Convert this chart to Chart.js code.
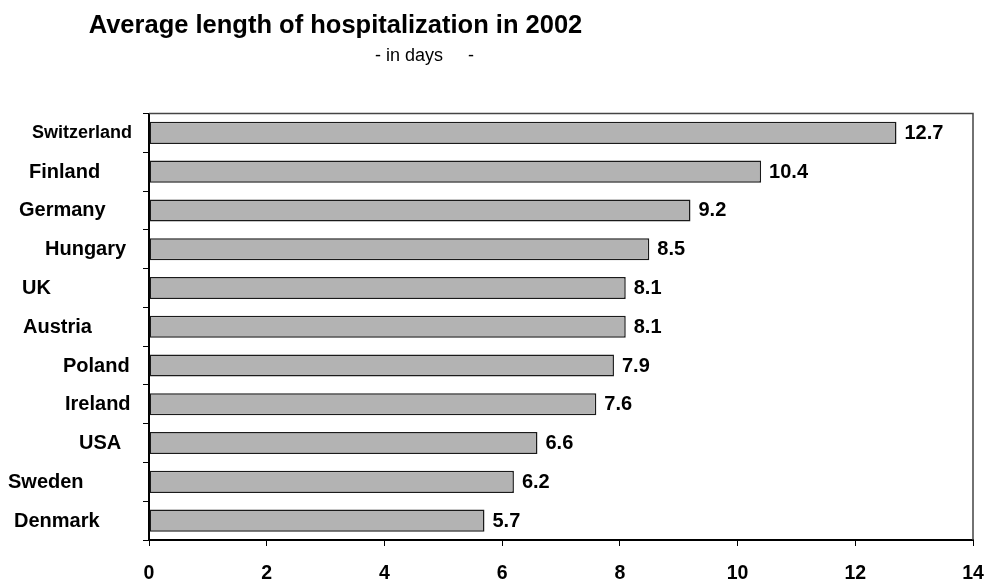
<!DOCTYPE html>
<html><head><meta charset="utf-8">
<script src="https://cdn.jsdelivr.net/npm/chart.js@4"></script>
<style>html,body{margin:0;padding:0;background:#fff}canvas{display:block}</style>
</head><body><canvas id="c" width="991" height="583"></canvas>
<script>
const countries = ['Switzerland','Finland','Germany','Hungary','UK','Austria','Poland','Ireland','USA','Sweden','Denmark'];
const days = [12.7, 10.4, 9.2, 8.5, 8.1, 8.1, 7.9, 7.6, 6.6, 6.2, 5.7];
const xTickValues = [0, 2, 4, 6, 8, 10, 12, 14];
const titleText = 'Average length of hospitalization in 2002';
const subtitleText = '- in days     -';

// label placement (style, not data)
const labelLeft = [32, 29, 19, 45, 22, 23, 63, 65, 79, 8, 14];
const labelSize = [18, 20, 20, 20, 20, 20, 20, 20, 20, 20, 20];
const FONT = '"Liberation Sans", Arial, sans-serif';

const decor = {
  id: 'decor',
  beforeDraw(chart) {
    const ctx = chart.ctx;
    ctx.save();
    ctx.fillStyle = '#fff';
    ctx.fillRect(0, 0, chart.width, chart.height);
    ctx.restore();
  },
  afterDraw(chart) {
    const ctx = chart.ctx, a = chart.chartArea, ys = chart.scales.y;
    ctx.save();
    ctx.strokeStyle = '#444';
    ctx.lineWidth = 1.5;
    ctx.beginPath();
    ctx.moveTo(a.left, a.top);
    ctx.lineTo(a.right, a.top);
    ctx.lineTo(a.right, a.bottom);
    ctx.stroke();
    ctx.fillStyle = '#000';
    ctx.textAlign = 'center';
    ctx.textBaseline = 'alphabetic';
    ctx.font = 'bold 25.5px ' + FONT;
    ctx.fillText(titleText, 335.5, 33);
    ctx.textAlign = 'left';
    ctx.font = '18px ' + FONT;
    ctx.fillText(subtitleText, 375, 60.5);
    ctx.textBaseline = 'middle';
    countries.forEach((c, i) => {
      ctx.font = 'bold ' + labelSize[i] + 'px ' + FONT;
      ctx.fillText(c, labelLeft[i], ys.getPixelForValue(i) + 0.5);
    });
    const meta = chart.getDatasetMeta(0);
    ctx.font = 'bold 20px ' + FONT;
    meta.data.forEach((bar, i) => {
      ctx.fillText(days[i].toFixed(1), bar.x + 8, bar.y + 0.5);
    });
    ctx.restore();
  }
};

new Chart(document.getElementById('c'), {
  type: 'bar',
  data: {
    labels: countries,
    datasets: [{
      data: days,
      backgroundColor: '#b3b3b3',
      borderColor: '#1a1a1a',
      borderWidth: 1.5,
      borderSkipped: false,
      categoryPercentage: 1,
      barPercentage: 0.57
    }]
  },
  options: {
    indexAxis: 'y',
    responsive: false,
    animation: false,
    events: [],
    layout: { padding: { left: 143, top: 113.5, right: 18, bottom: 0 } },
    plugins: { legend: { display: false }, tooltip: { enabled: false }, title: { display: false } },
    scales: {
      x: {
        type: 'linear',
        min: 0, max: 14,
        afterBuildTicks(scale) { scale.ticks = xTickValues.map(v => ({ value: v })); },
        afterFit(scale) { scale.height = 43; scale.paddingLeft = 0; scale.paddingRight = 0; },
        ticks: { color: '#000', padding: 16, font: { family: FONT, size: 19.5, weight: 'bold' } },
        grid: { drawOnChartArea: false, drawTicks: true, tickLength: 6, color: '#000', lineWidth: 1 },
        border: { color: '#000', width: 2 }
      },
      y: {
        type: 'category',
        offset: true,
        afterFit(scale) { scale.width = 6; scale.paddingTop = 0; scale.paddingBottom = 0; },
        ticks: { display: false },
        grid: { drawOnChartArea: false, drawTicks: true, tickLength: 6, color: '#000', lineWidth: 1, offset: true },
        border: { color: '#000', width: 2 }
      }
    }
  },
  plugins: [decor]
});
</script>
</body></html>
